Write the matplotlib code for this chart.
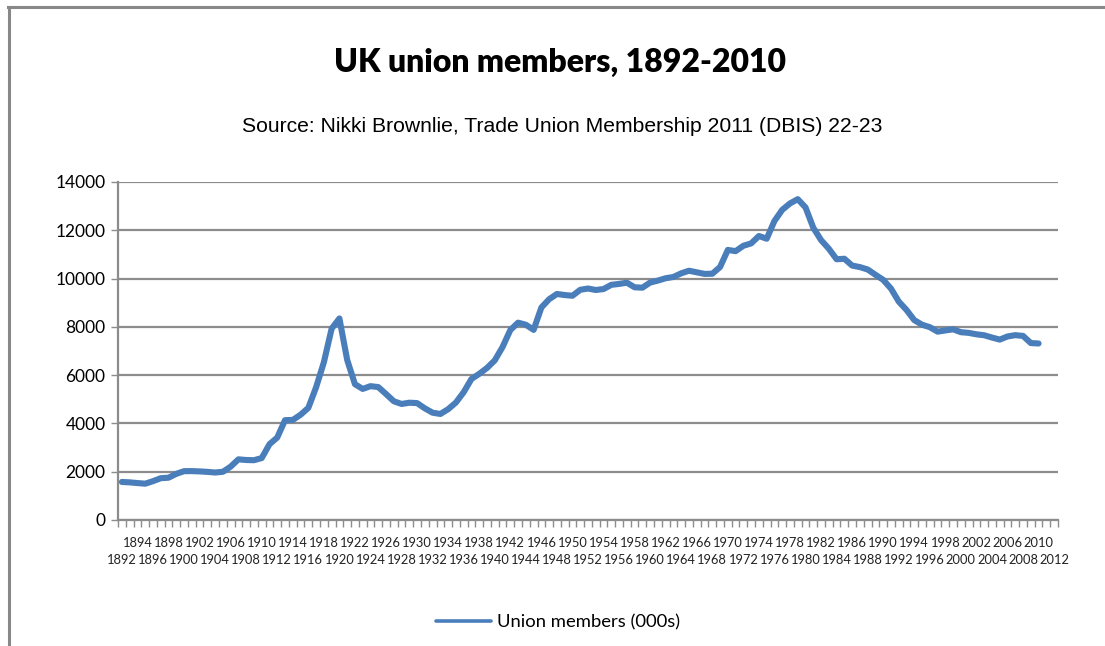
import numpy as np
import matplotlib.pyplot as plt
from matplotlib.lines import Line2D
from matplotlib import transforms

######################################
# Dados
######################################

years = list(range(1892, 2011))
axis_years = list(range(1892, 2013))

members = [
    1576, 1559, 1530, 1504, 1608, 1731, 1752, 1911, 2022, 2025,   # 1892-1901
    2013, 1994, 1967, 1997, 2210, 2513, 2485, 2477, 2565, 3139,   # 1902-1911
    3416, 4135, 4145, 4359, 4644, 5499, 6533, 7926, 8348, 6633,   # 1912-1921
    5625, 5429, 5544, 5506, 5219, 4919, 4806, 4858, 4842, 4624,   # 1922-1931
    4444, 4392, 4590, 4867, 5295, 5842, 6053, 6298, 6613, 7165,   # 1932-1941
    7867, 8174, 8087, 7875, 8803, 9145, 9362, 9318, 9289, 9535,   # 1942-1951
    9588, 9527, 9566, 9741, 9778, 9829, 9639, 9623, 9835, 9916,   # 1952-1961
    10014, 10067, 10218, 10325, 10259, 10194, 10200, 10479, 11187, 11135,  # 1962-1971
    11359, 11456, 11764, 11650, 12386, 12846, 13112, 13289, 12947, 12106,  # 1972-1981
    11593, 11236, 10800, 10821, 10539, 10475, 10376, 10158, 9947, 9585,    # 1982-1991
    9048, 8700, 8278, 8089, 7987, 7801, 7852, 7898, 7779, 7751,   # 1992-2001
    7691, 7652, 7557, 7473, 7602, 7656, 7625, 7329, 7311,         # 2002-2010
]

title = 'UK union members, 1892-2010'
subtitle = 'Source: Nikki Brownlie, Trade Union Membership 2011 (DBIS) 22-23'
series_label = 'Union members (000s)'

######################################
# Figura
######################################

line_blue = '#4a7ebb'
grid_gray = '#8c8c8c'

fig = plt.figure(figsize=(11.05, 6.46), dpi=100)
ax = fig.add_axes([118 / 1105, 1 - 520 / 646, 940 / 1105, 338 / 646])

x = np.arange(len(years))
ax.plot(x, members, color=line_blue, lw=4.4, solid_capstyle='round',
        solid_joinstyle='round', label=series_label)

ax.set_ylim(0, 14000)
ax.set_xlim(-0.5, len(axis_years) - 0.5)
ax.set_yticks(range(0, 14001, 2000))
ax.set_yticklabels([str(v) for v in range(0, 14001, 2000)],
                   fontfamily='Lato', fontsize=12.5)
ax.yaxis.grid(True, color=grid_gray, lw=1.6)
ax.set_axisbelow(True)

# tick marks between categories, labels centred on the categories
ax.set_xticks(np.arange(len(axis_years) + 1) - 0.5)
ax.set_xticklabels([])
ax.tick_params(axis='x', length=5, width=1, color=grid_gray, direction='out')
ax.tick_params(axis='y', length=5, width=1, color=grid_gray, direction='out', pad=4)

for s in ['top', 'right']:
    ax.spines[s].set_visible(False)
for s in ['left', 'bottom']:
    ax.spines[s].set_color(grid_gray)
    ax.spines[s].set_linewidth(1.6)

trans = transforms.blended_transform_factory(ax.transData, ax.transAxes)
for i, yr in enumerate(axis_years):
    if yr % 2:
        continue
    row_y = -0.067 if (yr - 1894) % 4 == 0 else -0.118
    ax.text(i, row_y, str(yr), transform=trans, ha='center', va='center',
            fontfamily='Lato', fontsize=9.3, color='#222222')

fig.text(560 / 1105, 1 - 62 / 646, title, ha='center', va='center',
         fontfamily='Lato', fontweight='heavy', fontsize=23)
fig.text(562 / 1105, 1 - 127 / 646, subtitle, ha='center', va='center',
         fontfamily='Liberation Sans', fontsize=15.2)

leg = fig.legend(loc='center', bbox_to_anchor=(558 / 1105, 1 - 622 / 646),
                 frameon=False, prop={'family': 'Lato', 'size': 13.3},
                 handlelength=3.0, handletextpad=0.3)
for h in leg.get_lines():
    h.set_linewidth(2.6)

# borda cinza do quadro
fig.add_artist(Line2D([9 / 1105, 9 / 1105], [0, 1 - 7 / 646], color='#888888',
                      lw=2.2, transform=fig.transFigure))
fig.add_artist(Line2D([8 / 1105, 1], [1 - 7 / 646, 1 - 7 / 646], color='#888888',
                      lw=2.2, transform=fig.transFigure))

fig.savefig('out.png', dpi=100)
